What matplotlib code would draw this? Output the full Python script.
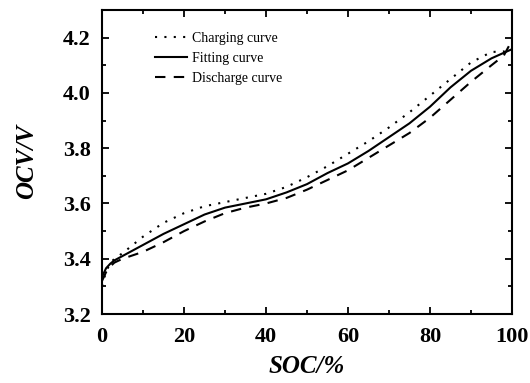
import numpy as np
import matplotlib
matplotlib.use("Agg")
import matplotlib.pyplot as plt
from matplotlib.ticker import MultipleLocator

# SOC (%) sample points
soc = [0, 1, 2, 3, 5, 10, 15, 20, 25, 30, 35, 40, 45, 50, 55, 60,
       65, 70, 75, 80, 85, 90, 95, 98, 100]

# OCV (V) values for each curve
charging = [3.30, 3.355, 3.383, 3.40, 3.42, 3.48, 3.53, 3.565, 3.59, 3.605,
            3.62, 3.635, 3.66, 3.695, 3.735, 3.78, 3.825, 3.875, 3.93,
            3.99, 4.05, 4.11, 4.148, 4.15, 4.135]
fitting = [3.335, 3.366, 3.382, 3.394, 3.41, 3.45, 3.49, 3.525, 3.56, 3.585,
           3.60, 3.615, 3.64, 3.67, 3.71, 3.745, 3.79, 3.84, 3.89,
           3.95, 4.02, 4.08, 4.125, 4.145, 4.158]
discharge = [3.32, 3.352, 3.372, 3.386, 3.40, 3.425, 3.46, 3.50, 3.535, 3.565,
             3.585, 3.60, 3.62, 3.65, 3.685, 3.72, 3.765, 3.81, 3.855,
             3.91, 3.975, 4.04, 4.10, 4.135, 4.19]

plt.rcParams['font.family'] = ['Liberation Serif', 'DejaVu Serif']

fig = plt.figure(figsize=(5.3, 3.83), dpi=100)
ax = fig.add_axes([0.1925, 0.18, 0.7735, 0.794])

ax.plot(soc, charging, color='black', lw=1.5, linestyle=(0, (1, 3.5)), label='Charging curve')
ax.plot(soc, fitting, color='black', lw=1.5, linestyle='-', label='Fitting curve')
ax.plot(soc, discharge, color='black', lw=1.5, linestyle=(0, (5, 4)), label='Discharge curve')

ax.set_xlim(0, 100)
ax.set_ylim(3.2, 4.3)
ax.xaxis.set_major_locator(MultipleLocator(20))
ax.xaxis.set_minor_locator(MultipleLocator(10))
ax.yaxis.set_major_locator(MultipleLocator(0.2))
ax.yaxis.set_minor_locator(MultipleLocator(0.1))
ax.yaxis.set_major_formatter(matplotlib.ticker.FormatStrFormatter('%.1f'))

ax.tick_params(which='both', direction='in', top=True, right=True, width=1.3)
ax.tick_params(which='major', length=5, labelsize=16)
ax.tick_params(axis='x', which='major', pad=9)
ax.tick_params(axis='y', which='major', pad=8)
ax.tick_params(which='minor', length=3)
for lab in ax.get_xticklabels() + ax.get_yticklabels():
    lab.set_fontweight('bold')
for sp in ax.spines.values():
    sp.set_linewidth(1.5)

ax.set_xlabel('SOC/%', fontsize=18, fontweight='bold', fontstyle='italic', labelpad=6)
ax.set_ylabel('OCV/V', fontsize=18, fontweight='bold', fontstyle='italic', labelpad=18)

ax.legend(loc='upper left', bbox_to_anchor=(0.11, 0.955), frameon=False,
          fontsize=10, handlelength=2.3, handletextpad=0.3, labelspacing=0.5,
          borderaxespad=0.2)

fig.savefig('out.png', dpi=100)
